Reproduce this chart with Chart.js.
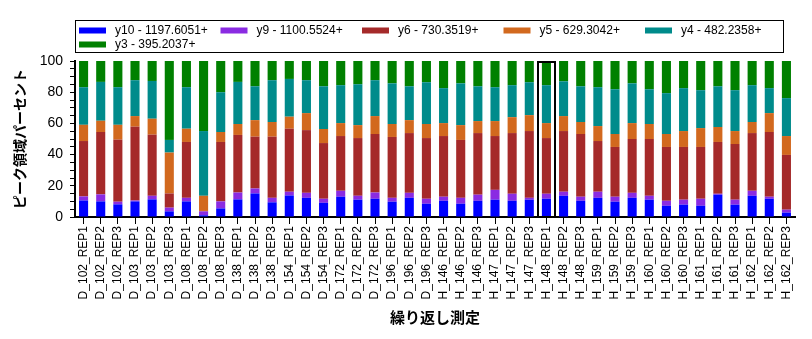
<!DOCTYPE html>
<html>
<head>
<meta charset="utf-8">
<script src="https://cdn.jsdelivr.net/npm/chart.js@4/dist/chart.umd.min.js"></script>
<style>
  html, body { margin: 0; padding: 0; background: #fff; }
  #wrap { width: 812px; height: 339px; }
</style>
</head>
<body>
<div id="wrap"><canvas id="peakChart"></canvas></div>
<script>
// categories
const samples = ['D_102', 'D_103', 'D_108', 'D_138', 'D_154', 'D_172', 'D_196',
                 'H_146', 'H_147', 'H_148', 'H_159', 'H_160', 'H_161', 'H_162'];
const reps = ['REP1', 'REP2', 'REP3'];
const labels = samples.flatMap(s => reps.map(r => s + '_' + r));

// peak area percent per series (bottom to top)
const y10 = [10.6, 10.0, 8.1, 10.0, 11.3, 3.6, 10.0, 1.1, 5.5, 11.3, 15.1, 9.4, 13.8, 12.3,
             9.1, 13.0, 11.1, 11.7, 9.8, 12.3, 8.5, 10.4, 8.5, 10.4, 11.1, 10.4, 11.1, 11.7,
             13.6, 10.4, 12.3, 9.8, 12.3, 11.1, 7.2, 7.9, 7.2, 14.3, 7.9, 13.6, 11.7, 2.8];
const y9 = [2.6, 4.5, 1.7, 0.6, 2.3, 2.4, 2.3, 2.5, 4.5, 4.4, 3.2, 2.9, 2.4, 3.2,
            2.6, 3.8, 2.5, 4.0, 2.5, 3.2, 3.2, 2.6, 3.8, 3.9, 6.3, 4.5, 1.2, 3.2,
            2.6, 2.6, 3.9, 3.2, 3.2, 2.5, 3.2, 3.2, 4.5, 0.6, 3.2, 3.2, 1.3, 1.9];
const y6 = [35.5, 40.0, 39.8, 47.3, 39.2, 9.1, 35.8, 0.3, 38.1, 36.9, 33.2, 39.2, 40.4, 40.2,
            35.7, 35.1, 37.0, 37.5, 39.0, 38.3, 38.9, 38.9, 37.1, 39.5, 34.5, 38.9, 42.8, 35.7,
            38.9, 40.2, 32.5, 31.9, 34.5, 36.4, 34.5, 33.8, 33.2, 33.2, 35.7, 37.0, 41.5, 35.1];
const y5 = [10.4, 7.2, 9.5, 6.8, 10.2, 26.2, 8.5, 9.7, 6.4, 7.0, 10.6, 9.4, 7.7, 10.9,
            9.0, 8.3, 8.3, 11.5, 8.3, 8.3, 9.0, 8.3, 9.5, 7.7, 9.6, 10.2, 10.2, 9.6,
            9.6, 7.7, 9.6, 8.3, 10.2, 9.6, 8.3, 10.2, 12.1, 9.6, 8.3, 7.1, 12.1, 12.1];
const y4 = [24.1, 24.9, 24.1, 23.0, 24.2, 8.1, 26.6, 41.5, 25.5, 27.0, 21.7, 26.8, 24.2, 21.1,
            27.4, 24.3, 26.2, 23.0, 26.1, 21.7, 26.8, 22.4, 26.8, 22.3, 21.7, 20.5, 21.1, 24.3,
            22.3, 22.9, 24.9, 28.7, 25.5, 22.3, 26.2, 27.5, 24.3, 26.1, 26.2, 23.6, 16.0, 24.3];
const y3 = [16.8, 13.4, 16.8, 12.3, 12.8, 50.6, 16.8, 44.9, 20.0, 13.4, 16.2, 12.3, 11.5, 12.3,
            16.2, 15.5, 14.9, 12.3, 14.3, 16.2, 13.6, 17.4, 14.3, 16.2, 16.8, 15.5, 13.6, 15.5,
            13.0, 16.2, 16.8, 18.1, 14.3, 18.1, 20.6, 17.4, 18.7, 16.2, 18.7, 15.5, 17.4, 23.8];

const seriesNames = ['y10 - 1197.6051+', 'y9 - 1100.5524+', 'y6 - 730.3519+',
                     'y5 - 629.3042+', 'y4 - 482.2358+', 'y3 - 395.2037+'];
const seriesData = [y10, y9, y6, y5, y4, y3];
const seriesColors = ['#0000ff', '#8a2be2', '#a52a2a', '#d2691e', '#008b8b', '#008000'];

const selectedLabel = 'H_148_REP1';

// boxed legend laid out on a fixed grid
const boxLegend = {
    id: 'boxLegend',
    afterDraw(chart) {
        const ctx = chart.ctx;
        ctx.save();
        ctx.strokeStyle = '#000';
        ctx.lineWidth = 1;
        ctx.strokeRect(75.5, 20.5, 708, 32);
        ctx.font = '12px "Liberation Sans", Arial, sans-serif';
        ctx.textBaseline = 'middle';
        chart.data.datasets.forEach((ds, i) => {
            const col = i % 5, row = Math.floor(i / 5);
            const x = 79 + col * 141.5;
            const y = 30.5 + row * 14;
            ctx.fillStyle = ds.backgroundColor;
            ctx.fillRect(x, y - 3, 27, 6);
            ctx.fillStyle = '#000';
            ctx.fillText(ds.label, x + 36, y);
        });
        ctx.restore();
    }
};

// selection frame around one replicate
const selectionBox = {
    id: 'selectionBox',
    afterDatasetsDraw(chart) {
        const xs = chart.scales.x;
        const idx = chart.data.labels.indexOf(selectedLabel);
        if (idx < 0) return;
        const w = (xs.right - xs.left) / chart.data.labels.length;
        const cx = xs.getPixelForValue(idx);
        const area = chart.chartArea;
        const ctx = chart.ctx;
        ctx.save();
        ctx.strokeStyle = '#000';
        ctx.lineWidth = 2;
        ctx.strokeRect(Math.round(cx - w / 2), area.top + 1, Math.round(w), area.bottom - area.top - 1);
        ctx.restore();
    }
};

new Chart(document.getElementById('peakChart'), {
    type: 'bar',
    data: {
        labels: labels,
        datasets: seriesData.map((d, i) => ({
            label: seriesNames[i],
            data: d,
            backgroundColor: seriesColors[i],
            borderWidth: 0,
            categoryPercentage: 1,
            barPercentage: 0.53
        }))
    },
    options: {
        responsive: true,
        maintainAspectRatio: false,
        animation: false,
        layout: {
            padding: { top: 61, right: 17, left: 0, bottom: 0 }
        },
        plugins: {
            legend: { display: false },
            tooltip: { enabled: false }
        },
        scales: {
            x: {
                stacked: true,
                afterFit: scale => { scale.height = 122; },
                grid: {
                    drawOnChartArea: false,
                    offset: false,
                    color: '#000',
                    tickLength: 7
                },
                border: { color: '#000', width: 2 },
                ticks: {
                    autoSkip: false,
                    minRotation: 90,
                    maxRotation: 90,
                    padding: 2,
                    color: '#000',
                    font: { family: '"Liberation Sans", Arial, sans-serif', size: 12 }
                },
                title: {
                    display: true,
                    text: '繰り返し測定',
                    color: '#000',
                    padding: { top: 0, bottom: 13 },
                    font: { family: '"Noto Sans CJK JP", sans-serif', size: 15, weight: 'bold' }
                }
            },
            y: {
                stacked: true,
                min: 0,
                max: 100,
                afterFit: scale => { scale.width = 75; },
                grid: {
                    drawOnChartArea: false,
                    color: '#000',
                    tickLength: 5
                },
                border: { color: '#000', width: 2 },
                ticks: {
                    stepSize: 5,
                    autoSkip: false,
                    padding: 7,
                    color: '#000',
                    font: { family: '"Liberation Sans", Arial, sans-serif', size: 14 },
                    callback: v => (v % 20 === 0 ? v : '')
                },
                title: {
                    display: true,
                    text: 'ピーク領域パーセント',
                    color: '#000',
                    padding: { top: 11, bottom: 0 },
                    font: { family: '"Noto Sans CJK JP", sans-serif', size: 14, weight: 'bold' }
                }
            }
        }
    },
    plugins: [boxLegend, selectionBox]
});
</script>
</body>
</html>
